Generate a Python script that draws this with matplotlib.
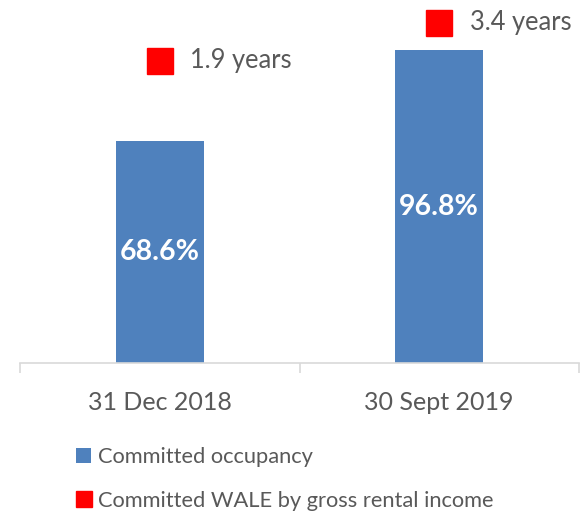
import matplotlib.pyplot as plt
import numpy as np
from matplotlib.ticker import FixedLocator

plt.rcParams['font.family'] = ['Lato', 'DejaVu Sans']

dates = ["31 Dec 2018", "30 Sept 2019"]
occupancy = [68.6, 96.8]
wale = [1.9, 3.4]

blue = "#4F81BD"
red = "#FF0000"
grey_text = "#595959"
axis_grey = "#D9D9D9"

fig = plt.figure(figsize=(5.86, 5.12), dpi=100)
ax = fig.add_axes([20 / 586, 149 / 512, 559 / 586, 355.5 / 512])
x = np.arange(len(dates))

bars = ax.bar(x, occupancy, width=0.315, color=blue, label="Committed occupancy", zorder=2)
for xi, v in zip(x, occupancy):
    ax.text(xi, v / 2, f"{v}%", ha="center", va="center", color="white",
            fontsize=20.5, fontweight="bold")

ax.set_xlim(-0.5, 1.5)
ax.set_ylim(0, 110)
ax.set_yticks([])
for s in ["top", "right", "left"]:
    ax.spines[s].set_visible(False)
ax.spines["bottom"].set_color(axis_grey)
ax.spines["bottom"].set_linewidth(1.2)
ax.set_xticks(x)
ax.set_xticklabels(dates, fontsize=18, color=grey_text)
ax.tick_params(axis="x", which="major", length=0, pad=20)
ax.xaxis.set_minor_locator(FixedLocator([-0.5, 0.5, 1.5]))
ax.tick_params(axis="x", which="minor", length=7, color=axis_grey, width=1.2)

ax2 = ax.twinx()
ax2.set_ylim(-10, 4)
ax2.axis("off")
pts, = ax2.plot(x, wale, linestyle="none", marker="s", markersize=19.4,
                color=red, label="Committed WALE by gross rental income")
for xi, v in zip(x, wale):
    ax2.annotate(f"{v} years", (xi, v), xytext=(22, 0), textcoords="offset points",
                 ha="left", va="center", fontsize=18.4, color=grey_text)

fig.legend(handles=[bars, pts], loc="upper left", bbox_to_anchor=(76 / 586, 1 - 447 / 512),
           frameon=False, fontsize=15.75, labelcolor=grey_text, handlelength=0.7,
           handleheight=0.7, handletextpad=0.3, markerscale=0.6, labelspacing=1.1,
           borderpad=0, borderaxespad=0)

fig.savefig("out.png", dpi=100)
